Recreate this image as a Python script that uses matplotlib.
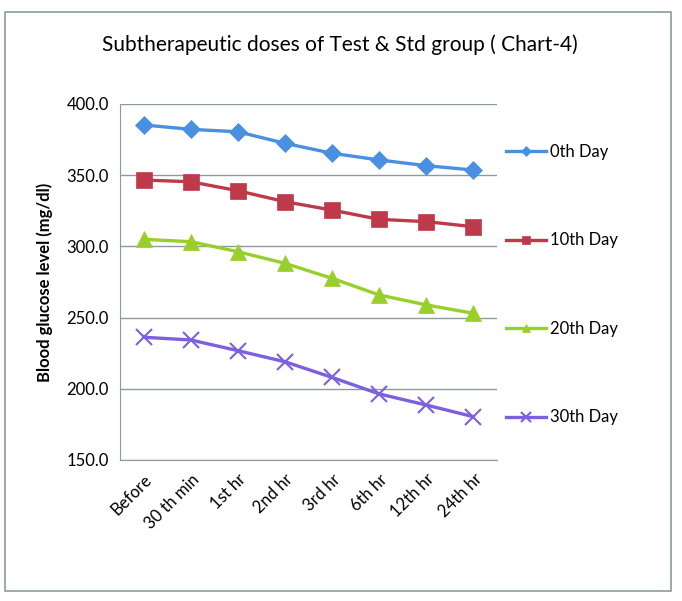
import matplotlib.pyplot as plt
from matplotlib.patches import Rectangle

# data
times = ["Before", "30 th min", "1st hr", "2nd hr", "3rd hr", "6th hr", "12th hr", "24th hr"]
day0 = [385.3, 382.2, 380.5, 372.4, 365.4, 360.7, 356.7, 353.6]
day10 = [346.6, 345.4, 339.1, 331.4, 325.5, 319.0, 317.4, 313.8]
day20 = [305.0, 303.3, 296.3, 288.1, 277.6, 265.9, 258.9, 253.0]
day30 = [236.2, 234.3, 226.8, 219.0, 208.0, 196.4, 188.6, 180.4]
labels = ["0th Day", "10th Day", "20th Day", "30th Day"]

plt.rcParams['font.family'] = ['Lato', 'DejaVu Sans']

fig = plt.figure(figsize=(6.82, 6.01), dpi=100)
ax = fig.add_axes([120/682, 1-460/601, 377/682, 356/601])

# outer chart frame
fig.patches.append(Rectangle((5/682, 1-591/601), 666/682, 579/601, transform=fig.transFigure,
                             fill=False, edgecolor='#8c9c9c', linewidth=1.2))

series = [day0, day10, day20, day30]
colors = ['#4a90e2', '#be3a4a', '#98cf2a', '#7d5fe0']
markers = ['D', 's', '^', 'x']
msizes = [9.5, 11, 11, 12]
x = range(len(times))
for vals, c, m, ms, lab in zip(series, colors, markers, msizes, labels):
    ax.plot(x, vals, color=c, marker=m, markersize=ms, linewidth=2.4, label=lab,
            markeredgewidth=1.5 if m == 'x' else 0.5)

ax.set_xlim(-0.5, len(times)-0.5)
ax.set_ylim(150, 400)
ax.set_yticks([150, 200, 250, 300, 350, 400])
ax.set_yticklabels(["%.1f" % v for v in [150, 200, 250, 300, 350, 400]], fontsize=12)
ax.set_xticks(list(x))
ax.set_xticklabels(times, rotation=45, ha='right', rotation_mode='anchor', fontsize=12)
ax.tick_params(length=0, pad=8)
ax.yaxis.grid(True, color='#8c9c9c', linewidth=1)
ax.set_axisbelow(True)
for s in ['top', 'right']:
    ax.spines[s].set_visible(False)
for s in ['left', 'bottom']:
    ax.spines[s].set_color('#8c9c9c')

ax.set_ylabel("Blood glucose level (mg/dl)", fontsize=12, fontweight='bold', labelpad=10)
fig.text(340/682, 1-45/601, "Subtherapeutic doses of Test & Std group ( Chart-4)",
         ha='center', va='center', fontsize=15)

leg = ax.legend(loc='upper left', bbox_to_anchor=(0.985, 0.93), frameon=False, fontsize=12,
                labelspacing=4.35, handlelength=2.4, handletextpad=0.2, markerscale=0.55)

fig.savefig("out.png", dpi=100)
